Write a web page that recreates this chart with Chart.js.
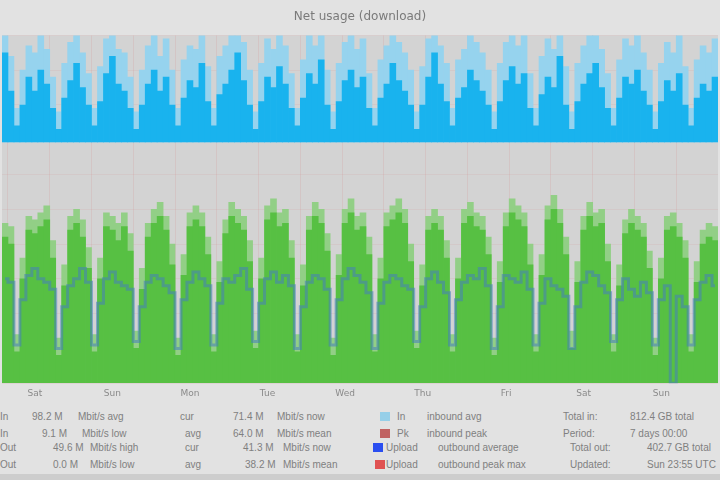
<!DOCTYPE html>
<html>
<head>
<meta charset="utf-8">
<script src="https://cdn.jsdelivr.net/npm/chart.js@4/dist/chart.umd.min.js"></script>
<style>
  body { margin: 0; background: #e2e2e2; width: 720px; height: 480px; overflow: hidden; position: relative; font-family: "Liberation Sans", sans-serif; }
  #wrap { position: absolute; left: 0; top: 0; width: 720px; height: 404px; }
  .lg { position: absolute; font-size: 10px; line-height: 10px; color: #808080; white-space: nowrap; }
  .sq { position: absolute; width: 10px; height: 9px; }
  #foot { position: absolute; left: 0; top: 474px; width: 720px; height: 6px; background: #cdcdcd; }
</style>
</head>
<body>
<div id="wrap"><canvas id="c"></canvas></div>
<div id="legend"></div>
<div id="foot"></div>
<script>
// tick labels on the time axis and the column they sit under
var tickLabels = ['Sat', 'Sun', 'Mon', 'Tue', 'Wed', 'Thu', 'Fri', 'Sat', 'Sun'];
var tickAt = [5, 18, 31, 44, 57, 70, 84, 97, 110];

// upper band: inbound (avg = solid blue, max = light blue), drawn up from inBase
var inBase = 69.4;
var inAvg = [95,84,74,80,88,84,90,86,79,73,
             82,87,92,85,80,74,81,89,94,86,
             84,79,73,80,86,90,84,88,80,74,
             82,87,85,92,81,74,83,86,90,95,
             87,80,73,81,88,85,91,86,79,74,
             82,89,86,93,80,73,81,87,90,85,
             88,79,74,82,86,92,87,84,80,73,
             80,88,95,86,81,74,82,85,90,87,
             84,80,73,81,87,91,86,89,79,74,
             83,88,85,94,80,73,81,86,89,92,
             85,79,74,82,88,86,90,84,80,73,
             81,87,84,89,80,74,82,86,84,88];
var inMax = [100,94,79,90,97,95,100,96,88,78,
             92,98,100,95,89,79,91,99,100,96,
             95,88,78,90,97,100,94,99,90,79,
             93,97,96,100,91,79,94,97,100,100,
             98,90,78,92,99,96,100,97,89,79,
             93,100,97,100,90,78,92,98,100,96,
             99,89,79,93,97,100,98,95,90,78,
             91,99,100,97,92,79,93,96,100,98,
             95,90,78,92,98,100,97,100,89,79,
             94,99,96,100,91,78,92,97,100,100,
             96,89,79,93,99,97,100,95,90,78,
             92,98,95,100,91,79,93,97,95,99];

// lower band: outbound (avg = green, max = light green)
var outAvg = [42,40,9,30,44,43,45,47,36,8,
              28,44,46,42,33,9,30,45,44,41,
              45,38,10,27,42,46,48,44,34,8,
              31,45,47,45,37,9,29,43,48,46,
              44,35,10,30,47,49,45,46,36,9,
              28,44,48,46,38,8,31,46,49,44,
              45,37,9,30,45,47,49,46,35,10,
              28,44,46,44,36,9,30,46,48,45,
              44,37,8,29,45,49,47,45,34,9,
              31,47,50,46,37,10,29,44,48,45,
              46,35,9,28,43,46,44,42,33,8,
              30,44,45,42,36,9,29,40,42,41];
var outMax = [46,45,14,36,48,47,49,51,41,13,
              34,48,50,47,39,14,36,49,48,46,
              49,43,15,33,46,50,52,48,40,13,
              37,49,51,49,42,14,35,47,52,50,
              48,41,15,36,51,53,49,50,41,14,
              34,48,52,50,43,13,37,50,53,48,
              49,42,14,36,49,51,53,50,40,15,
              34,48,50,48,41,14,36,50,52,49,
              48,42,13,35,49,53,51,49,40,14,
              37,51,54,50,42,15,35,48,52,49,
              50,40,14,34,47,50,48,46,38,13,
              36,48,49,46,41,14,35,44,46,45];

// line drawn over the green area
var outLine = [30,29,11,24,31,33,30,29,27,10,
               22,28,30,33,29,11,23,30,32,29,
               28,27,12,22,29,31,30,28,26,10,
               24,29,32,30,28,11,23,30,29,31,
               33,27,12,23,30,32,29,31,28,10,
               22,29,31,30,27,11,24,30,33,31,
               29,26,10,23,29,31,30,28,27,12,
               22,30,32,29,26,11,24,29,31,30,
               33,28,10,22,31,30,29,32,27,11,
               23,30,28,27,25,10,22,29,32,31,
               28,26,12,24,30,27,25,29,26,11,
               24,28,0,25,22,11,24,29,31,28];

var categories = [];
for (var i = 0; i < outAvg.length; i++) {
  var k = tickAt.indexOf(i);
  categories.push(k >= 0 ? tickLabels[k] : '');
}

var plotBg = {
  id: 'plotBg',
  beforeDraw: function(chart) {
    var a = chart.chartArea, ctx = chart.ctx;
    ctx.save();
    ctx.fillStyle = '#d3d3d3';
    ctx.fillRect(a.left, a.top, a.right - a.left, a.bottom - a.top);
    ctx.restore();
  }
};

var barOpts = { type: 'bar', grouped: false, categoryPercentage: 1, barPercentage: 1, borderWidth: 0 };

var ctx = document.getElementById('c').getContext('2d');
var chart = new Chart(ctx, {
  data: {
    labels: categories,
    datasets: [
      Object.assign({ label: 'out line', type: 'line', data: outLine, borderColor: 'rgba(70,125,190,0.55)', borderWidth: 3, pointRadius: 0, tension: 0, stepped: 'middle', order: 0 }),
      Object.assign({ label: 'out avg', data: outAvg, backgroundColor: '#57c043', order: 1 }, barOpts),
      Object.assign({ label: 'out max', data: outMax, backgroundColor: '#92cf86', order: 2 }, barOpts),
      Object.assign({ label: 'in avg', data: inAvg.map(function(v) { return [inBase, v]; }), backgroundColor: '#19b3ee', order: 1 }, barOpts),
      Object.assign({ label: 'in max', data: inMax.map(function(v) { return [inBase, v]; }), backgroundColor: '#96d3ee', order: 2 }, barOpts)
    ]
  },
  options: {
    responsive: true,
    maintainAspectRatio: false,
    animation: false,
    layout: { padding: 0 },
    plugins: {
      legend: { display: false },
      tooltip: { enabled: false },
      title: {
        display: true,
        text: 'Net usage (download)',
        color: '#7a7a7a',
        font: { family: 'DejaVu Sans', size: 12, weight: 'normal' },
        padding: { top: 10, bottom: 11 }
      }
    },
    scales: {
      x: {
        grid: {
          color: function(c) { return (c.index % 7 === 1) ? 'rgba(215,150,150,0.22)' : 'rgba(0,0,0,0)'; },
          drawTicks: false
        },
        border: { display: false },
        ticks: { autoSkip: false, maxRotation: 0, padding: 5, color: '#8a8a8a', font: { family: 'DejaVu Sans', size: 9 } }
      },
      y: {
        min: 0,
        max: 100,
        grid: { color: 'rgba(215,150,150,0.15)', drawTicks: false },
        border: { display: false },
        ticks: { display: false, stepSize: 10 }
      }
    }
  },
  plugins: [plotBg]
});

// text legend under the chart
var legendRows = [
  { y: 412, items: [[0, 'In'], [32, '98.2 M'], [78, 'Mbit/s avg'], [180, 'cur'], [233, '71.4 M'], [277, 'Mbit/s now'], [397, 'In'], [427, 'inbound avg'], [563, 'Total in:'], [630, '812.4 GB total']] },
  { y: 429, items: [[0, 'In'], [42, '9.1 M'], [82, 'Mbit/s low'], [185, 'avg'], [233, '64.0 M'], [277, 'Mbit/s mean'], [397, 'Pk'], [427, 'inbound peak'], [563, 'Period:'], [630, '7 days 00:00']] },
  { y: 443, items: [[0, 'Out'], [53, '49.6 M'], [90, 'Mbit/s high'], [185, 'cur'], [243, '41.3 M'], [283, 'Mbit/s now'], [386, 'Upload'], [438, 'outbound average'], [570, 'Total out:'], [647, '402.7 GB total']] },
  { y: 460, items: [[0, 'Out'], [53, '0.0 M'], [90, 'Mbit/s low'], [185, 'avg'], [245, '38.2 M'], [283, 'Mbit/s mean'], [386, 'Upload'], [438, 'outbound peak max'], [570, 'Updated:'], [647, 'Sun 23:55 UTC']] }
];
var legendSquares = ['#96cfe8', '#c06262', '#2a4ef0', '#e05252'];
var squareX = [380, 380, 373, 375];

var lg = document.getElementById('legend');
legendRows.forEach(function(row, r) {
  row.items.forEach(function(it) {
    var s = document.createElement('div');
    s.className = 'lg';
    s.style.left = it[0] + 'px';
    s.style.top = row.y + 'px';
    s.textContent = it[1];
    lg.appendChild(s);
  });
  var q = document.createElement('div');
  q.className = 'sq';
  q.style.left = squareX[r] + 'px';
  q.style.top = row.y + 'px';
  q.style.background = legendSquares[r];
  lg.appendChild(q);
});
</script>
</body>
</html>
